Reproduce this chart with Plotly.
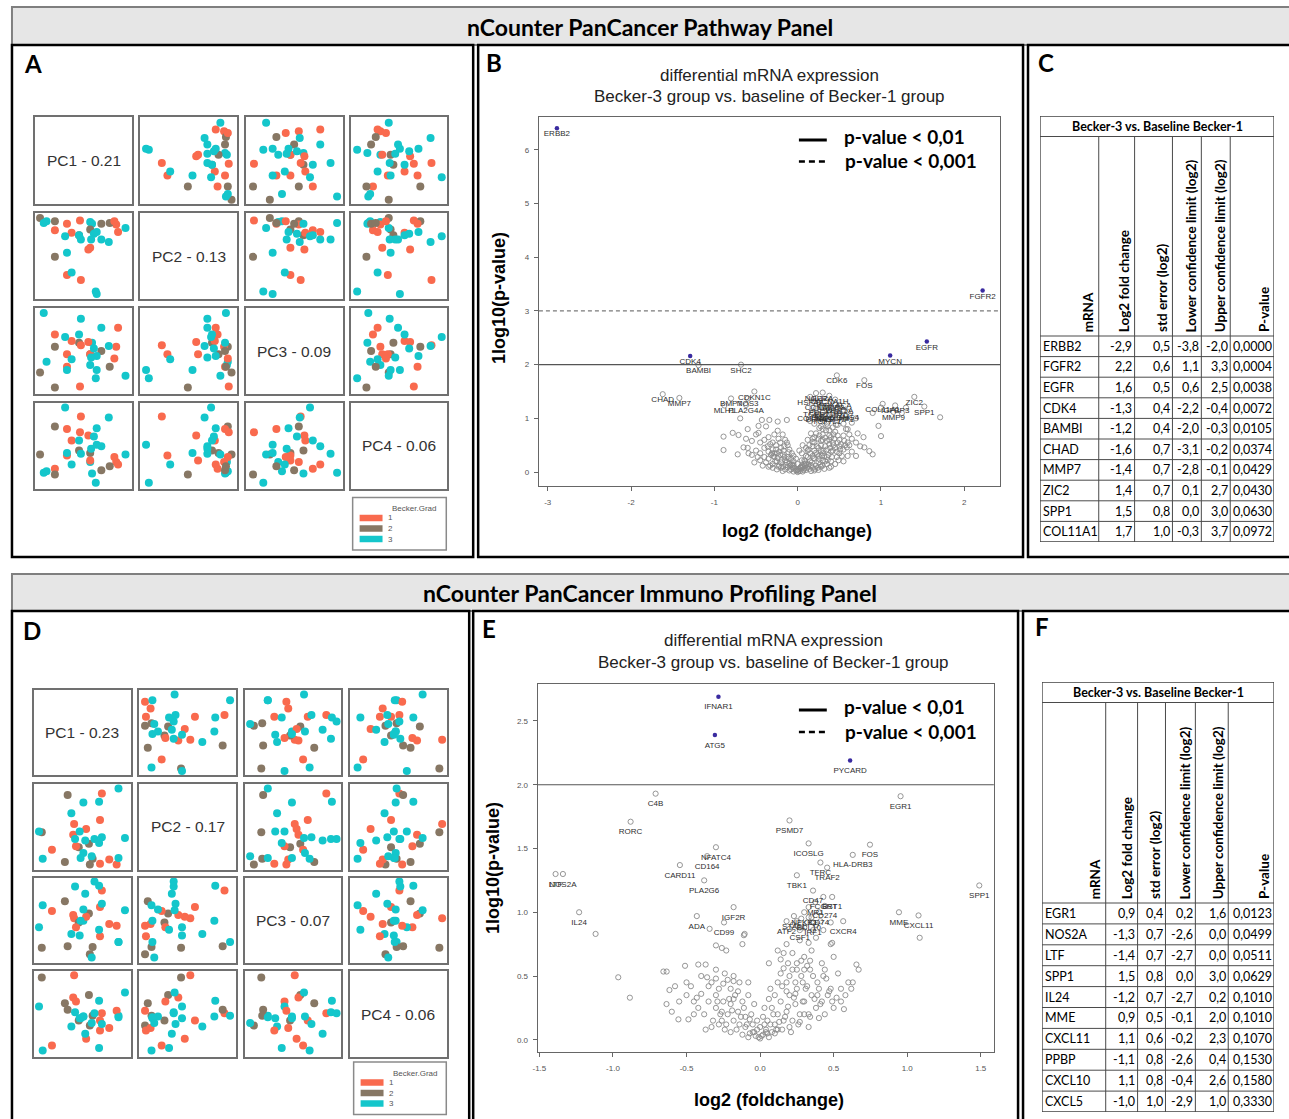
import plotly.graph_objects as go

W, H = 1289, 1119
ARIAL = "Liberation Sans, Arial, sans-serif"
CAL = "Lato, Carlito, Calibri, sans-serif"

# ======================= DATA =======================
# ---- Panel A: PCA scores (scaled within each pairs cell) ----
A_group = [2,1,3,2,1,3,2,1,3,2, 1,3,2,1,3,2,1,3,2,1, 3,1,3,1,3,1,3,1,3,3, 3,3,3,3,3]
A_PC1 = [.03,.19,.07,.19,.32,.10,.19,.46,.57,.45, .85,.59,.57,.87,.95,.69,.37,.30,.78,.57,
         .47,.55,.61,.32,.64,.47,.58,.83,.69,.77, .32,.37,.63,.64,.45]
A_PC2 = [.96,.81,.90,.92,.89,.92,.49,.93,.91,.75, .88,.89,.82,.79,.84,.89,.78,.74,.90,.60,
         .70,.58,.77,.27,.79,.21,.70,.92,.70,.67, .54,.30,.07,.04,.75]
A_PC3 = [.24,.70,.96,.55,.31,.37,.06,.07,.33,.60, .55,.60,.46,.78,.20,.50,.62,.67,.31,.46,
         .89,.61,.53,.46,.44,.57,.42,.41,.78,.56, .27,.40,.17,.27,.70]
A_PC4 = [.39,.22,.17,.73,.70,.19,.15,.66,.30,.44, .30,.16,.41,.27,.39,.20,.56,.96,.25,.32,
         .40,.62,.61,.38,.71,.85,.46,.36,.49,.84, .41,.27,.05,.51,.56]
A_var = [0.21, 0.13, 0.09, 0.06]

# ---- Panel D: PCA scores ----
D_group = [2,1,3,2,1,3,2,1,3,2, 1,3,2,1,3,2,1,3,2,1, 3,1,3,1,3,1,3,3,3,3, 3,3,3,3]
D_PC1 = [.06,.71,.89,.34,.69,.51,.31,.41,.68,.57, .54,.38,.46,.40,.47,.61,.43,.03,.58,.17,
         .42,.69,.53,.79,.63,.87,.68,.71,.96,.51, .48,.07,.89,.60]
D_PC2 = [.43,.90,.96,.88,.58,.79,.07,.53,.80,.29, .47,.66,.25,.40,.44,.11,.26,.44,.04,.22,
         .35,.05,.33,.10,.35,.04,.30,.37,.36,.18, .12,.11,.12,.14]
D_PC3 = [.16,.86,.23,.18,.66,.49,.73,.52,.92,.58, .54,.33,.47,.56,.31,.17,.41,.41,.08,.61,
         .91,.30,.82,.45,.97,.43,.38,.70,.62,.63, .49,.68,.23,.04]
D_PC4 = [.94,.51,.48,.55,.42,.47,.63,.97,.66,.73, .20,.35,.42,.70,.45,.48,.65,.59,.36,.12,
         .52,.30,.26,.33,.51,.54,.09,.38,.76,.47, .45,.06,.46,.39]
D_var = [0.23, 0.17, 0.07, 0.06]

GROUP_LEVELS = [1, 2, 3]
GROUP_COLORS = {1: "#F96A4E", 2: "#877764", 3: "#14C6CB"}

# ---- Panel B: volcano (log2 FC, -log10 p) ----
B_bg_x = [-0.15,-0.10,-0.05,0.00,0.03,0.06,0.10,0.14,-0.20,0.18,-0.08,0.08,-0.02,0.02,-0.12,0.12,0.20,
          -0.30,-0.25,-0.20,-0.15,-0.10,0.10,0.15,0.20,0.25,0.30,-0.35,-0.28,0.35,0.22,-0.22,0.05,-0.05,0.28,
          -0.38,0.40,-0.45,0.45,0.12,-0.12,-0.55,-0.50,-0.45,-0.40,-0.35,-0.30,-0.25,-0.20,-0.18,0.15,0.20,
          0.25,0.30,0.35,0.40,0.45,0.50,0.55,0.60,0.18,0.28,-0.60,-0.65,-0.59,-0.72,-0.89,0.59,0.80,0.86,
          0.90,0.65,0.70,-0.78,-0.89,-0.71,-0.47,-0.24,-0.40,-0.30,-0.35,-0.15,0.20,0.25,0.30,0.35,0.40,
          0.45,0.50,0.55,0.60,0.65,0.79,1.00,0.97,0.22,0.38,-0.55,-0.62,0.72,-0.69,-0.47,-0.43,-0.34,-0.24,
          -0.13,0.20,0.28,0.42,0.15,0.65,0.70,0.90,1.25,1.71,1.00,1.30,-0.10,-0.05,0.05,0.08,-0.08,0.10,
          0.25,0.35,0.42,0.50,-0.42,0.38,0.55,-0.52,0.48,0.58,0.32,0.25,
          -0.18,-0.14,-0.06,0.00,0.04,0.09,0.16,0.24,0.26,0.32,0.18,0.22,0.28,0.33,0.38,0.42,0.47,0.52,
          0.36,0.30,-0.24,-0.28,-0.32,-0.36,-0.26,-0.22,-0.16,-0.40,-0.48,0.12,0.14,0.18,0.26,0.34,0.44,
          0.48,0.30,0.38,0.56,0.62,
          -0.25,-0.30,0.25,0.32,-0.18,0.16,-0.35,0.40,-0.05,0.00,0.05,-0.02,0.10,-0.07,0.02,0.06,-0.12,
          0.12,0.20,0.30,0.35,0.40,0.45,0.50,0.28,0.22,0.18,0.38,0.48,0.55,0.60,0.62,0.70,0.75,-0.45,
          -0.50,-0.60,-0.38,-0.28,-0.18]
B_bg_y = [0.05,0.03,0.01,0.00,0.02,0.01,0.04,0.06,0.08,0.08,0.05,0.07,0.03,0.06,0.09,0.10,0.03,
          0.15,0.20,0.18,0.22,0.15,0.16,0.20,0.25,0.18,0.22,0.25,0.28,0.28,0.12,0.12,0.12,0.14,0.10,
          0.18,0.20,0.22,0.15,0.28,0.28,0.32,0.40,0.35,0.45,0.38,0.42,0.35,0.45,0.33,0.35,0.40,
          0.45,0.35,0.42,0.38,0.45,0.35,0.42,0.30,0.48,0.50,0.45,0.46,0.35,0.33,0.41,0.46,0.46,0.39,
          0.33,0.38,0.30,0.73,0.66,0.69,0.73,0.77,0.60,0.55,0.65,0.60,0.55,0.62,0.70,0.58,0.65,
          0.75,0.60,0.68,0.55,0.62,0.65,0.67,0.86,0.72,0.78,0.58,0.62,0.72,1.00,0.86,0.97,0.97,0.94,
          0.97,0.90,0.85,0.83,0.95,0.92,1.00,1.10,1.10,1.02,1.20,1.20,0.42,0.30,0.35,0.22,0.25,0.45,
          0.30,0.15,0.55,0.48,0.12,0.08,0.20,0.18,0.88,0.80,0.95,1.02,
          0.10,0.13,0.08,0.05,0.10,0.12,0.13,0.08,0.24,0.30,0.30,0.36,0.40,0.48,0.52,0.40,0.28,0.52,
          0.22,0.12,0.26,0.35,0.32,0.48,0.50,0.38,0.28,0.28,0.28,0.40,0.50,0.62,0.68,0.78,0.62,
          0.68,0.60,0.68,0.58,0.50,
          0.05,0.08,0.04,0.06,0.02,0.02,0.10,0.10,0.20,0.15,0.22,0.25,0.30,0.35,0.40,0.50,0.50,
          0.60,0.65,0.80,0.90,1.00,1.05,1.10,1.00,1.05,1.20,1.15,1.20,0.90,0.80,0.70,0.55,0.48,0.55,
          0.70,0.80,0.85,0.70,0.70]
# dense core of the volcano (read approximately from the grey mass)
B_core_x = [-0.33,-0.29,-0.27,-0.23,-0.21,-0.19,-0.17,-0.13,-0.11,-0.09,-0.07,-0.04,-0.01,0.01,0.04,
            0.07,0.09,0.11,0.13,0.17,0.19,0.21,0.23,0.27,0.29,0.31,0.33,0.37,0.39,0.41,0.43,0.47,0.49,
            0.51,0.53,0.57,-0.31,-0.26,-0.21,-0.16,-0.11,-0.06,0.03,0.08,0.13,0.18,0.23,0.28,0.33,0.38,
            0.43,0.48,-0.13,0.16,0.26,0.36,0.46,-0.23,-0.33,0.06]
B_core_y = [0.12,0.30,0.20,0.10,0.32,0.23,0.40,0.18,0.25,0.12,0.14,0.08,0.03,0.02,0.08,
            0.04,0.20,0.08,0.14,0.18,0.26,0.06,0.33,0.14,0.30,0.40,0.20,0.32,0.45,0.28,0.50,0.38,0.22,
            0.42,0.30,0.50,0.35,0.42,0.55,0.48,0.37,0.12,0.08,0.15,0.42,0.56,0.48,0.58,0.64,0.60,
            0.70,0.55,0.55,0.72,0.82,0.85,0.88,0.62,0.52,0.10]
B_lab_genes = ["BAMBI","SHC2","CDK6","FOS","CHAD","MMP7","CDKN1C","BMP7","NOS3","MLH1","PLA2G4A",
               "ZIC2","SPP1","COL11A1","IGFBP3","MMP9","NGFR","HSPA2","CACNA1H","IL12A","CCND2",
               "LAMB3","PDGFRA","WNT5A","PRKACA","FZD7","TGFB2","ITGA6","NOTCH3","SFRP1","TCF7L1",
               "EFNA3","GNG4","COL5A1"]
B_lab_x = [-1.19,-0.68,0.47,0.80,-1.62,-1.42,-0.52,-0.80,-0.60,-0.88,-0.62,
           1.40,1.52,1.02,1.17,1.15,0.22,0.15,0.38,0.30,0.25,
           0.40,0.33,0.50,0.45,0.55,0.22,0.30,0.42,0.52,0.35,
           0.25,0.60,0.18]
B_lab_y = [1.99,2.00,1.80,1.71,1.45,1.38,1.50,1.37,1.37,1.24,1.25,
           1.40,1.22,1.27,1.24,1.12,1.47,1.40,1.42,1.48,1.30,
           1.30,1.22,1.25,1.35,1.15,1.18,1.12,1.10,1.08,1.05,
           1.08,1.12,1.10]
B_sig_genes = ["ERBB2", "FGFR2", "EGFR", "CDK4", "MYCN"]
B_sig_x = [-2.89, 2.22, 1.55, -1.29, 1.11]
B_sig_y = [6.40, 3.38, 2.43, 2.16, 2.17]
B_xticks = [-3, -2, -1, 0, 1, 2]
B_yticks = [0, 1, 2, 3, 4, 5, 6]

# ---- Panel E: volcano ----
E_bg_x = [0.48,0.38,0.33,0.27,0.18,0.16,0.22,0.30,0.35,0.25,0.32,0.14,-0.12,-0.11,-0.26,-0.30,-0.23,
          -0.37,-0.42,-0.51,-0.657,-0.635,-0.964,-0.885,0.655,0.67,0.55,0.60,0.58,0.50,0.45,0.52,0.48,
          0.55,0.62,0.63,-0.616,-0.578,-0.636,-0.555,-0.487,-0.37,-0.45,-0.43,-0.50,-0.47,-0.40,-0.36,
          -0.33,-0.30,-0.28,-0.25,-0.20,-0.15,-0.35,-0.30,-0.25,-0.22,-0.20,-0.18,-0.15,-0.12,-0.10,
          -0.38,-0.32,-0.28,-0.26,-0.42,-0.24,-0.16,-0.10,-0.07,-0.05,-0.03,0.00,0.02,0.04,0.06,-0.08,
          -0.20,-0.12,0.05,0.08,0.10,0.10,0.12,0.14,0.15,0.18,0.20,0.22,0.24,0.25,0.27,0.28,0.30,0.32,
          0.34,0.35,0.36,0.38,0.40,0.42,0.44,0.46,0.20,0.18,0.12,0.08,0.15,0.20,0.10,0.25,0.30,0.22,
          0.40,0.33,-1.118,-0.343,-0.105,0.49,1.085,0.33,0.22,0.25,0.28,0.30,0.32,0.35,0.38,0.41,0.27,
          0.36,0.43,0.20,0.48,-0.06,-0.04,0.00,0.02,0.06,-0.08,0.03,-0.02,0.07,-0.14,-0.18,-0.22,0.16,
          0.28,0.34,
          -0.05,0.03,0.05,-0.02,0.12,0.16,-0.14,0.26,0.30,0.18,0.24,-0.26,-0.30,-0.18,-0.08,0.06,0.12,
          0.42,0.50,-0.55,-0.60,-0.50]
E_bg_y = [0.75,0.80,0.76,0.78,0.75,0.68,0.68,0.65,0.70,0.60,0.58,0.63,0.75,0.82,0.72,0.74,0.70,
          0.59,0.59,0.58,0.535,0.535,0.49,0.33,0.59,0.55,0.40,0.45,0.35,0.25,0.48,0.33,0.40,
          0.30,0.40,0.45,0.39,0.42,0.28,0.16,0.16,0.08,0.30,0.33,0.45,0.42,0.50,0.49,
          0.45,0.48,0.40,0.44,0.40,0.38,0.30,0.25,0.30,0.20,0.28,0.15,0.22,0.30,0.18,
          0.20,0.15,0.12,0.22,0.25,0.08,0.08,0.10,0.05,0.12,0.03,0.01,0.04,0.08,0.02,0.02,
          0.06,0.04,0.15,0.25,0.35,0.12,0.20,0.30,0.42,0.22,0.35,0.15,0.28,0.40,0.20,0.50,0.30,0.42,
          0.18,0.35,0.50,0.25,0.40,0.30,0.20,0.35,0.50,0.45,0.45,0.06,0.08,0.10,0.05,0.55,0.55,0.55,
          0.17,0.10,0.83,0.87,0.83,0.76,0.80,1.04,0.90,0.93,0.95,0.88,0.92,0.96,0.90,0.93,0.86,
          0.86,0.86,0.87,0.92,0.20,0.28,0.10,0.18,0.32,0.35,0.25,0.15,0.40,0.45,0.50,0.47,0.56,
          0.62,0.62,
          0.06,0.12,0.05,0.08,0.08,0.15,0.12,0.12,0.20,0.38,0.45,0.15,0.35,0.32,0.45,0.60,0.70,
          0.60,0.65,0.30,0.22,0.35]
E_core_x = [-0.33,-0.29,-0.27,-0.23,-0.21,-0.19,-0.17,-0.13,-0.11,-0.09,-0.07,-0.04,-0.01,0.01,0.04,
            0.07,0.09,0.11,0.13,0.17,0.19,0.21,0.23,0.27,0.29,0.31,0.33,0.37,0.39,0.41,0.43,0.47,
            -0.45,-0.40,-0.35,-0.30,-0.24,-0.18,0.14,0.19,0.24,0.29,0.34,0.39,0.44,0.49,0.53,0.57]
E_core_y = [0.10,0.30,0.20,0.12,0.32,0.23,0.35,0.18,0.25,0.12,0.16,0.06,0.02,0.03,0.06,
            0.12,0.20,0.08,0.14,0.18,0.26,0.06,0.33,0.14,0.30,0.40,0.20,0.32,0.45,0.28,0.50,0.38,
            0.20,0.36,0.42,0.55,0.52,0.46,0.52,0.60,0.36,0.45,0.55,0.35,0.55,0.30,0.52,0.24]
E_lab_genes = ["C4B","RORC","NFATC4","CD164","CARD11","PLA2G6","LTF","NOS2A","IL24","ADA","IGF2R",
               "CD99","PSMD7","ICOSLG","FOS","HLA-DRB3","TFRC","TRAF2","TBK1","CD47","FCGRT","BST1",
               "CXCR4","MME","CXCL11","SPP1","EGR1","STAT1","ATF2","CSF1","MR1","CD274","NFKB1",
               "BCL10","IRF1","CD74"]
E_lab_x = [-0.71,-0.88,-0.30,-0.36,-0.545,-0.38,-1.39,-1.34,-1.23,-0.43,-0.18,
           -0.245,0.20,0.33,0.747,0.63,0.41,0.456,0.25,0.36,0.43,0.49,
           0.565,0.944,1.077,1.49,0.955,0.23,0.18,0.27,0.376,0.44,0.30,
           0.33,0.36,0.40]
E_lab_y = [1.93,1.71,1.51,1.44,1.37,1.25,1.30,1.30,1.00,0.97,1.04,
           0.92,1.72,1.54,1.53,1.45,1.39,1.35,1.29,1.17,1.12,1.12,
           0.93,1.00,0.975,1.21,1.91,0.97,0.93,0.88,1.08,1.05,1.00,
           0.96,0.92,1.00]
E_sig_genes = ["IFNAR1", "ATG5", "PYCARD"]
E_sig_x = [-0.283, -0.307, 0.612]
E_sig_y = [2.69, 2.39, 2.19]
E_xticks = [-1.5, -1.0, -0.5, 0.0, 0.5, 1.0, 1.5]
E_yticks = [0.0, 0.5, 1.0, 1.5, 2.0, 2.5]

# ---- Panel C / F tables ----
TABLE_TITLE = "Becker-3 vs. Baseline Becker-1"
TABLE_HEADERS = ["mRNA", "Log2 fold change", "std error (log2)", "Lower confidence limit (log2)",
                 "Upper confidence limit (log2)", "P-value"]
C_genes = ["ERBB2","FGFR2","EGFR","CDK4","BAMBI","CHAD","MMP7","ZIC2","SPP1","COL11A1"]
C_fc = [-2.9, 2.2, 1.6, -1.3, -1.2, -1.6, -1.4, 1.4, 1.5, 1.7]
C_se = [0.5, 0.6, 0.5, 0.4, 0.4, 0.7, 0.7, 0.7, 0.8, 1.0]
C_lcl = [-3.8, 1.1, 0.6, -2.2, -2.0, -3.1, -2.8, 0.1, 0.0, -0.3]
C_ucl = [-2.0, 3.3, 2.5, -0.4, -0.3, -0.2, -0.1, 2.7, 3.0, 3.7]
C_p = [0.0000, 0.0004, 0.0038, 0.0072, 0.0105, 0.0374, 0.0429, 0.0430, 0.0630, 0.0972]

F_genes = ["EGR1","NOS2A","LTF","SPP1","IL24","MME","CXCL11","PPBP","CXCL10","CXCL5"]
F_fc = [0.9, -1.3, -1.4, 1.5, -1.2, 0.9, 1.1, -1.1, 1.1, -1.0]
F_se = [0.4, 0.7, 0.7, 0.8, 0.7, 0.5, 0.6, 0.8, 0.8, 1.0]
F_lcl = [0.2, -2.6, -2.7, 0.0, -2.7, -0.1, -0.2, -2.6, -0.4, -2.9]
F_ucl = [1.6, 0.0, 0.0, 3.0, 0.2, 2.0, 2.3, 0.4, 2.6, 1.0]
F_p = [0.0123, 0.0499, 0.0511, 0.0629, 0.1010, 0.1010, 0.1070, 0.1530, 0.1580, 0.3330]

# ======================= BUILD =======================
layout = dict(width=W, height=H, margin=dict(l=0, r=0, t=0, b=0, pad=0),
              paper_bgcolor="white", plot_bgcolor="rgba(0,0,0,0)", showlegend=False)
shapes, annotations, traces = [], [], []
_n = [0]


def new_axes(x0, x1, y0, y1, xcfg, ycfg):
    _n[0] += 1
    s = "" if _n[0] == 1 else str(_n[0])
    layout["xaxis" + s] = dict(domain=[x0 / W, x1 / W], anchor="y" + s, **xcfg)
    layout["yaxis" + s] = dict(domain=[1 - y1 / H, 1 - y0 / H], anchor="x" + s, **ycfg)
    return "x" + s, "y" + s


def pann(x, y, text, size, family=CAL, color="black", xanchor="center", yanchor="middle", angle=0):
    annotations.append(dict(xref="paper", yref="paper", x=x / W, y=1 - y / H, text=text,
                            showarrow=False, font=dict(family=family, size=size, color=color),
                            xanchor=xanchor, yanchor=yanchor, textangle=angle, borderpad=0))


def prect(x0, y0, x1, y1, color="black", width=2.5, fill=None):
    d = dict(type="rect", xref="paper", yref="paper", x0=x0 / W, x1=x1 / W,
             y0=1 - y1 / H, y1=1 - y0 / H, line=dict(color=color, width=width))
    if fill:
        d["fillcolor"] = fill
        d["layer"] = "below"
    shapes.append(d)


def pline(x0, y0, x1, y1, color="black", width=1, dash="solid"):
    shapes.append(dict(type="line", xref="paper", yref="paper", x0=x0 / W, x1=x1 / W,
                       y0=1 - y0 / H, y1=1 - y1 / H, line=dict(color=color, width=width, dash=dash)))


# ---------- headers and frames ----------
prect(7, 7, 1295, 45, color="#7f7f7f", width=2, fill="#e6e6e6")
prect(7, 574, 1295, 611, color="#7f7f7f", width=2, fill="#e6e6e6")
pann(648, 27, "<b>nCounter PanCancer Pathway Panel</b>", 23)
pann(648, 593, "<b>nCounter PanCancer Immuno Profiling Panel</b>", 23)
for (fx0, fy0, fx1, fy1) in [(7, 45, 470, 557), (475, 45, 1022, 557), (1027, 45, 1295, 557),
                             (7, 611, 466, 1125), (470, 611, 1017, 1125), (1022, 611, 1295, 1125)]:
    prect(fx0, fy0, fx1, fy1, color="black", width=2.5)
for (lx, ly, lt) in [(28, 64, "A"), (491, 62, "B"), (1045, 62, "C"),
                     (27, 630, "D"), (486, 628, "E"), (1041, 626, "F")]:
    pann(lx, ly, "<b>%s</b>" % lt, 24)


# ---------- pairs (PCA) panels ----------
def pairs(cols, rows, pcs, groups, var, leg):
    cell_ax = dict(range=[-0.02, 1.02], showgrid=False, zeroline=False, showticklabels=False,
                   ticks="", showline=True, mirror=True, linecolor="#707070", linewidth=1.6,
                   fixedrange=True)
    colors = [GROUP_COLORS[g] for g in groups]
    for i in range(4):
        for j in range(4):
            xa, ya = new_axes(cols[j][0], cols[j][1], rows[i][0], rows[i][1], dict(cell_ax), dict(cell_ax))
            if i == j:
                annotations.append(dict(xref=xa, yref=ya, x=0.5, y=0.5,
                                        text="PC%d - %.2f" % (i + 1, var[i]), showarrow=False,
                                        font=dict(family=ARIAL, size=15.5, color="#333333")))
            else:
                traces.append(go.Scatter(x=pcs[j], y=pcs[i], mode="markers", xaxis=xa, yaxis=ya,
                                         marker=dict(color=colors, size=8, line=dict(width=0)),
                                         hoverinfo="skip"))
    lx0, ly0, lx1, ly1 = leg
    prect(lx0, ly0, lx1, ly1, color="#8a8a8a", width=1.5)
    pann(lx0 + 62, ly0 + 11, "Becker.Grad", 8, ARIAL, "#555555")
    for k, g in enumerate(GROUP_LEVELS):
        yy = ly0 + 20.5 + 10.5 * k
        pline(lx0 + 7, yy, lx0 + 30, yy, GROUP_COLORS[g], 6.5)
        pann(lx0 + 34, yy, str(g), 8, ARIAL, "#555555", xanchor="left")


pairs([(30.5, 127.5), (136, 233), (241.5, 339), (347, 444)],
      [(117, 204), (213, 299), (308, 394), (402.5, 488.5)],
      [A_PC1, A_PC2, A_PC3, A_PC4], A_group, A_var, (349, 497.5, 443, 550))
pairs([(29.5, 126), (135, 231.5), (240.5, 337.5), (346.5, 443.5)],
      [(689.5, 775), (783.5, 869.5), (877.5, 962.5), (971, 1057)],
      [D_PC1, D_PC2, D_PC3, D_PC4], D_group, D_var, (350, 1062, 443, 1114.5))


# ---------- volcano panels ----------
def fmt_tick(v, dec):
    return ("%." + str(dec) + "f") % v


def volcano(box, xr, yr, xt, xdec, yt, ydec, bgx, bgy, lg, lx, ly, sg, sx, sy, hlines, off_px):
    x0, x1, y0, y1 = box
    common = dict(showgrid=False, zeroline=False, showline=True, mirror=True, linecolor="#666666",
                  linewidth=1, ticks="outside", ticklen=4, tickwidth=1, tickcolor="#666666",
                  tickfont=dict(family=ARIAL, size=8, color="#555555"), fixedrange=True,
                  tickmode="array")
    xa, ya = new_axes(x0, x1, y0, y1,
                      dict(range=xr, tickvals=xt, ticktext=[fmt_tick(v, xdec) for v in xt],
                           ticklabelstandoff=5, **common),
                      dict(range=yr, tickvals=yt, ticktext=[fmt_tick(v, ydec) for v in yt],
                           ticklabelstandoff=3, **common))
    ref = xa + " domain"
    for (hv, dash, col) in hlines:
        shapes.append(dict(type="line", xref=ref, x0=0, x1=1, yref=ya, y0=hv, y1=hv,
                           line=dict(color=col, width=1.2, dash=dash)))
    traces.append(go.Scatter(x=bgx + lx, y=bgy + ly, mode="markers", xaxis=xa, yaxis=ya,
                             marker=dict(symbol="circle-open", size=5.2, color="#8a8a8a",
                                         line=dict(width=0.9)), hoverinfo="skip"))
    traces.append(go.Scatter(x=sx, y=sy, mode="markers", xaxis=xa, yaxis=ya,
                             marker=dict(symbol="circle", size=4.5, color="#3a2ba0"),
                             hoverinfo="skip"))
    ppu = (y1 - y0) / (yr[1] - yr[0])
    off = off_px / ppu
    traces.append(go.Scatter(x=sx + lx, y=[v - off for v in sy + ly], text=sg + lg, mode="text",
                             textposition="middle center", xaxis=xa, yaxis=ya,
                             textfont=dict(family=ARIAL, size=8, color="#2e2e2e"),
                             hoverinfo="skip"))


volcano((536, 999, 116.5, 485.5), [-3.106, 2.43], [-0.25, 6.62], B_xticks, 0, B_yticks, 0,
        B_bg_x + B_core_x, B_bg_y + B_core_y, B_lab_genes, B_lab_x, B_lab_y,
        B_sig_genes, B_sig_x, B_sig_y,
        [(2, "solid", "#555555"), (3, "4px,3px", "#7a7a7a")], 6)
volcano((534.7, 992.7, 684, 1051.5), [-1.512, 1.589], [-0.092, 2.79], E_xticks, 1, E_yticks, 1,
        E_bg_x + E_core_x, E_bg_y + E_core_y, E_lab_genes, E_lab_x, E_lab_y,
        E_sig_genes, E_sig_x, E_sig_y,
        [(2, "solid", "#555555")], 10.5)

# titles / axis titles / legends for volcano panels
for (cx, ty, yx, yy, xx, xy, ly1, ly2) in [(767, 75, 496, 298, 795, 531, 140, 161.5),
                                           (771, 640, 490, 868, 767, 1100, 710, 732)]:
    pann(cx, ty, "differential mRNA expression", 17, ARIAL, "#222222")
    pann(cx, ty + 22, "Becker-3 group vs. baseline of Becker-1 group", 17, ARIAL, "#222222")
    pann(yx, yy, "<b>1log10(p-value)</b>", 18, ARIAL, "black", angle=-90)
    pann(xx, xy, "<b>log2 (foldchange)</b>", 18, ARIAL, "black")
    pline(797, ly1, 825, ly1, "black", 3)
    pline(797, ly2, 825, ly2, "black", 2.5, "6px,4px")
    pann(841, ly1 - 4, "<b>p-value &lt; 0,01</b>", 19, CAL, "black", xanchor="left")
    pann(842, ly2 - 1, "<b>p-value &lt; 0,001</b>", 19, CAL, "black", xanchor="left")


# ---------- tables ----------
def f1(v):
    return ("%.1f" % v).replace(".", ",")


def f4(v):
    return ("%.4f" % v).replace(".", ",")


def table(xe, y_top, y_tb, y_hb, y_bot, genes, cols):
    xa, ya = new_axes(xe[0], xe[-1], y_top, y_bot,
                      dict(range=[xe[0], xe[-1]], visible=False, fixedrange=True),
                      dict(range=[y_bot, y_top], visible=False, fixedrange=True))
    n = len(genes)
    rh = (y_bot - y_hb) / n
    lc = dict(color="#4a4a4a", width=1)
    shapes.append(dict(type="rect", xref=xa, yref=ya, x0=xe[0], x1=xe[-1], y0=y_top, y1=y_bot,
                       line=dict(color="#404040", width=1.4)))
    for yv in [y_tb, y_hb] + [y_hb + rh * i for i in range(1, n)]:
        shapes.append(dict(type="line", xref=xa, yref=ya, x0=xe[0], x1=xe[-1], y0=yv, y1=yv, line=lc))
    for xv in xe[1:-1]:
        shapes.append(dict(type="line", xref=xa, yref=ya, x0=xv, x1=xv, y0=y_tb, y1=y_bot, line=lc))
    annotations.append(dict(xref=xa, yref=ya, x=(xe[0] + xe[-1]) / 2, y=(y_top + y_tb) / 2,
                            text="<b>%s</b>" % TABLE_TITLE, showarrow=False,
                            font=dict(family=CAL, size=12.5, color="black")))
    for k, h in enumerate(TABLE_HEADERS):
        annotations.append(dict(xref=xa, yref=ya, x=xe[k + 1] - 10.5, y=y_hb - 3,
                                text="<b>%s</b>" % h, showarrow=False, textangle=-90,
                                xanchor="center", yanchor="bottom", borderpad=0,
                                font=dict(family=CAL, size=13.5, color="black")))
    fmts = [f1, f1, f1, f1, f4]
    for r, g in enumerate(genes):
        yc = y_hb + rh * (r + 0.5)
        annotations.append(dict(xref=xa, yref=ya, x=xe[0] + 2, y=yc, text=g, showarrow=False,
                                xanchor="left", borderpad=0,
                                font=dict(family=CAL, size=12.5, color="black")))
        for c, vals in enumerate(cols):
            annotations.append(dict(xref=xa, yref=ya, x=xe[c + 2] - 1.5, y=yc,
                                    text=fmts[c](vals[r]), showarrow=False, xanchor="right",
                                    borderpad=0, font=dict(family=CAL, size=12.5, color="black")))


table([1039, 1098, 1134, 1172, 1201, 1230, 1274], 116, 136.5, 336, 542,
      C_genes, [C_fc, C_se, C_lcl, C_ucl, C_p])
table([1041, 1105, 1137, 1165, 1195, 1228, 1274], 682, 702.5, 903, 1112,
      F_genes, [F_fc, F_se, F_lcl, F_ucl, F_p])

layout["shapes"] = shapes
layout["annotations"] = annotations
fig = go.Figure(data=traces, layout=layout)
fig.write_html("out.html", config={"displayModeBar": False},
               post_script="document.body.style.margin='0px';document.body.style.overflow='hidden';")
